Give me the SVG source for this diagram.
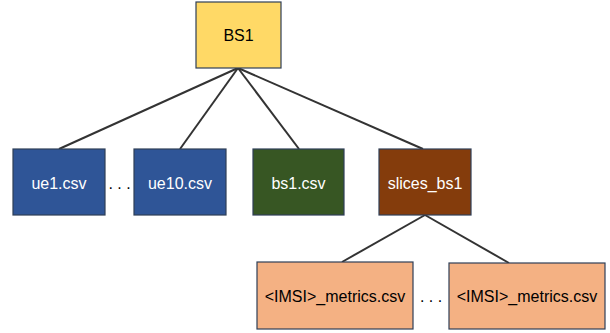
<svg xmlns="http://www.w3.org/2000/svg" width="610" height="333" viewBox="0 0 610 333">
<style>
.box{stroke:#2F3F57;stroke-width:1.2}
.t{font-family:"Liberation Sans",Arial,sans-serif;font-size:16px;text-anchor:middle;dominant-baseline:central}
.w{fill:#FFFFFF}
.k{fill:#000000}
.c{stroke:#333333;stroke-width:2;fill:none}
</style>
<rect width="610" height="333" fill="#FFFFFF"/>
<g id="connectors">
<line class="c" x1="238" y1="68" x2="59" y2="149"/>
<line class="c" x1="238" y1="68" x2="180" y2="149"/>
<line class="c" x1="238" y1="68" x2="299" y2="149"/>
<line class="c" x1="238" y1="68" x2="423" y2="149"/>
<line class="c" x1="425" y1="215" x2="342" y2="262"/>
<line class="c" x1="425" y1="215" x2="509" y2="263"/>
</g>
<g id="BS1">
<rect class="box" x="196" y="2" width="85" height="66" fill="#FFD966"/>
<text class="t k" x="238.5" y="35">BS1</text>
</g>
<g id="ue1">
<rect class="box" x="13" y="149" width="92" height="66" fill="#2F5597"/>
<text class="t w" x="59" y="183">ue1.csv</text>
</g>
<g id="dots1">
<text class="t k" x="119.5" y="183">. . .</text>
</g>
<g id="ue10">
<rect class="box" x="134" y="149" width="92" height="66" fill="#2F5597"/>
<text class="t w" x="180" y="183">ue10.csv</text>
</g>
<g id="bs1csv">
<rect class="box" x="253" y="149" width="91" height="66" fill="#375623"/>
<text class="t w" x="298.5" y="183">bs1.csv</text>
</g>
<g id="slices_bs1">
<rect class="box" x="379" y="149" width="92" height="66" fill="#843C0C"/>
<text class="t w" x="425" y="183">slices_bs1</text>
</g>
<g id="imsi1">
<rect class="box" x="257" y="262" width="156" height="67" fill="#F4B183"/>
<text class="t k" x="335" y="296">&lt;IMSI&gt;_metrics.csv</text>
</g>
<g id="dots2">
<text class="t k" x="431" y="296">. . .</text>
</g>
<g id="imsi2">
<rect class="box" x="449" y="263" width="156" height="66" fill="#F4B183"/>
<text class="t k" x="527" y="296">&lt;IMSI&gt;_metrics.csv</text>
</g>
</svg>
